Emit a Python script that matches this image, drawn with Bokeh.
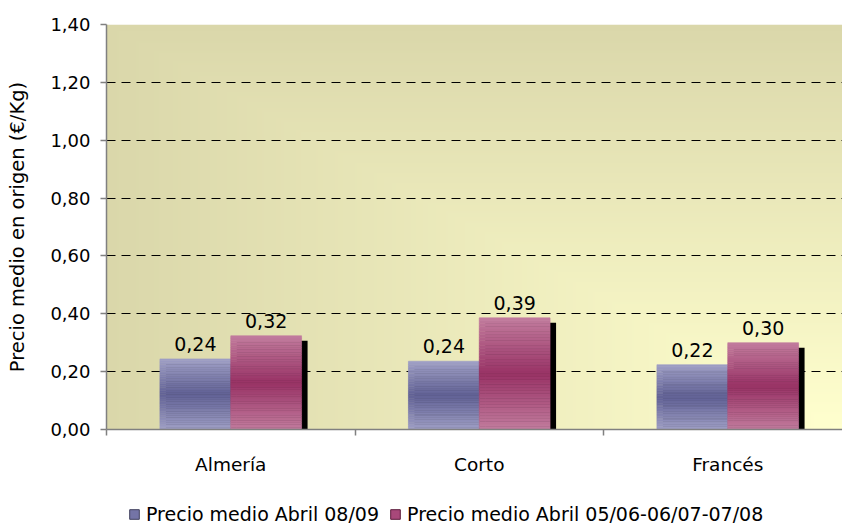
import numpy as np
from bokeh.plotting import figure
from bokeh.layouts import column
from bokeh.models import (ColumnDataSource, Range1d, FixedTicker, Legend, LegendItem,
                          CustomJSTickFormatter)
from bokeh.embed import file_html
from bokeh.resources import INLINE
from bokeh.core.properties import value

# ---------------- data ----------------
categories = ["Almería", "Corto", "Francés"]
precio_abril_0809 = [0.244, 0.236, 0.224]
precio_abril_0508 = [0.324, 0.386, 0.300]
series_names = ["Precio medio Abril 08/09", "Precio medio Abril 05/06-06/07-07/08"]
y_ticks = [0.0, 0.2, 0.4, 0.6, 0.8, 1.0, 1.2, 1.4]
y_title = "Precio medio en origen (€/Kg)"

FONT = "DejaVu Sans"
W = 842
H_MAIN, H_LEG = 478, 47
LEFT, TOP, BOTTOM = 106, 24, 49
X_START = -0.5
PX_PER_CAT = 248.5
X_END = X_START + (W - LEFT) / PX_PER_CAT
Y_MAX = 1.4
PX_PER_Y = (H_MAIN - TOP - BOTTOM) / Y_MAX

BAR_W = 0.285
N_BANDS = 40

blue_light, blue_dark = np.array([160, 160, 198]), np.array([98, 98, 150])
pink_light, pink_dark = np.array([194, 124, 158]), np.array([153, 51, 102])


def hexc(c):
    c = np.clip(np.round(c), 0, 255).astype(int)
    return "#%02x%02x%02x" % tuple(c)


def band_source(vals, offset_left, light, dark):
    L, R, B, T, C = [], [], [], [], []
    for i, v in enumerate(vals):
        for k in range(N_BANDS):
            t = 1 - abs(2 * (k + 0.5) / N_BANDS - 1)
            L.append(i + offset_left)
            R.append(i + offset_left + BAR_W)
            B.append(v * k / N_BANDS)
            T.append(v * (k + 1) / N_BANDS)
            C.append(hexc(light + (dark - light) * t))
    return ColumnDataSource(dict(left=L, right=R, bottom=B, top=T, color=C))


p = figure(width=W, height=H_MAIN, output_backend="svg", toolbar_location=None,
           x_range=Range1d(X_START, X_END), y_range=Range1d(0, Y_MAX),
           min_border_left=LEFT, min_border_right=0, min_border_top=TOP,
           min_border_bottom=BOTTOM, outline_line_color=None,
           background_fill_color="white", border_fill_color="white")

# background gradient (from bottom-right corner)
GH, GW = 200, 300
u = np.linspace(0, 1, GW)[None, :]
yb = np.linspace(0, 1, GH)[:, None]
d = np.maximum(1 - u, yb)
light_bg, dark_bg = np.array([255, 255, 206]), np.array([218, 215, 170])
img = np.empty((GH, GW), dtype=np.uint32)
view = img.view(dtype=np.uint8).reshape((GH, GW, 4))
for ch in range(3):
    view[:, :, ch] = np.round(light_bg[ch] + (dark_bg[ch] - light_bg[ch]) * d).astype(np.uint8)
view[:, :, 3] = 255
p.image_rgba(image=[img], x=X_START, y=0, dw=X_END - X_START, dh=Y_MAX, level="image")

# shadows
dx = 6 / PX_PER_CAT
dy = 5 / PX_PER_Y
for vals, off in ((precio_abril_0809, -BAR_W), (precio_abril_0508, 0.0)):
    sh = ColumnDataSource(dict(
        left=[i + off + dx for i in range(len(vals))],
        right=[i + off + BAR_W + dx for i in range(len(vals))],
        top=[max(v - dy, 0) for v in vals],
        bottom=[0] * len(vals)))
    p.quad(left="left", right="right", top="top", bottom="bottom", source=sh,
           fill_color="black", line_color=None)

src_blue = band_source(precio_abril_0809, -BAR_W, blue_light, blue_dark)
src_pink = band_source(precio_abril_0508, 0.0, pink_light, pink_dark)
p.quad(left="left", right="right", top="top", bottom="bottom", source=src_blue,
       fill_color="color", line_color="color", line_width=0.6)
p.quad(left="left", right="right", top="top", bottom="bottom", source=src_pink,
       fill_color="color", line_color="color", line_width=0.6)

# data labels
lab_x, lab_y, lab_t = [], [], []
for i, (a, b) in enumerate(zip(precio_abril_0809, precio_abril_0508)):
    lab_x += [i - BAR_W / 2, i + BAR_W / 2]
    lab_y += [a, b]
    lab_t += [f"{a:.2f}".replace(".", ","), f"{b:.2f}".replace(".", ",")]
p.text(x=lab_x, y=lab_y, text=lab_t, text_align="center", text_baseline="alphabetic",
       y_offset=-15, text_font=value(FONT), text_font_size="19px", text_color="black")

# axes
grey = "#808080"
p.yaxis.ticker = FixedTicker(ticks=y_ticks)
p.yaxis.formatter = CustomJSTickFormatter(code="return tick.toFixed(2).replace('.', ',');")
p.yaxis.axis_label = y_title
p.yaxis.axis_label_text_font = FONT
p.yaxis.axis_label_text_font_style = "normal"
p.yaxis.axis_label_text_font_size = "19.5px"
p.yaxis.axis_label_text_color = "black"
p.yaxis.axis_label_standoff = 18
p.yaxis.major_label_text_font = FONT
p.yaxis.major_label_text_font_size = "18px"
p.yaxis.major_label_text_color = "black"
p.yaxis.major_label_standoff = 10
p.yaxis.major_tick_out = 6
p.yaxis.major_tick_in = 0
p.yaxis.minor_tick_line_color = None
p.yaxis.axis_line_color = grey
p.yaxis.axis_line_width = 1.5
p.yaxis.major_tick_line_color = grey
p.yaxis.major_tick_line_width = 1.5

p.xaxis.ticker = FixedTicker(ticks=list(range(len(categories))),
                             minor_ticks=[i - 0.5 for i in range(len(categories) + 1)])
p.xaxis.formatter = CustomJSTickFormatter(args=dict(cats=categories),
                                          code="return cats[Math.round(tick)];")
p.xaxis.major_label_text_font = FONT
p.xaxis.major_label_text_font_size = "18.5px"
p.xaxis.major_label_text_color = "black"
p.xaxis.major_label_standoff = 18
p.xaxis.major_tick_out = 0
p.xaxis.major_tick_in = 0
p.xaxis.minor_tick_out = 6
p.xaxis.minor_tick_in = 0
p.xaxis.minor_tick_line_color = grey
p.xaxis.minor_tick_line_width = 1.5
p.xaxis.axis_line_color = grey
p.xaxis.axis_line_width = 1.5

p.xgrid.visible = False
p.ygrid.ticker = FixedTicker(ticks=y_ticks)
p.ygrid.grid_line_color = "black"
p.ygrid.grid_line_dash = "9 6"
p.ygrid.grid_line_width = 1

# ---------------- legend strip ----------------
p2 = figure(width=W, height=H_LEG, output_backend="svg", toolbar_location=None,
            x_axis_type=None, y_axis_type=None, min_border=0,
            outline_line_color=None, background_fill_color="white",
            border_fill_color="white", x_range=Range1d(0, 1), y_range=Range1d(0, 1))
p2.grid.visible = False
# legend proxies (kept outside the strip's visible range)
lg_blue = p2.quad(left=[5], right=[6], top=[6], bottom=[5],
                  fill_color="#7474a6", line_color="#40405e", line_width=1)
lg_pink = p2.quad(left=[5], right=[6], top=[6], bottom=[5],
                  fill_color="#a8487a", line_color="#5c1c3c", line_width=1)
legend = Legend(items=[LegendItem(label=series_names[0], renderers=[lg_blue]),
                       LegendItem(label=series_names[1], renderers=[lg_pink])],
                location=(22, 0), orientation="horizontal",
                background_fill_alpha=0, border_line_color=None,
                label_text_font=FONT, label_text_font_size="19px", label_text_color="black",
                glyph_width=12, glyph_height=12, label_standoff=6, spacing=10,
                padding=0, margin=0)
p2.add_layout(legend)

open("out.html", "w").write(file_html(column(p, p2, spacing=0), INLINE))
